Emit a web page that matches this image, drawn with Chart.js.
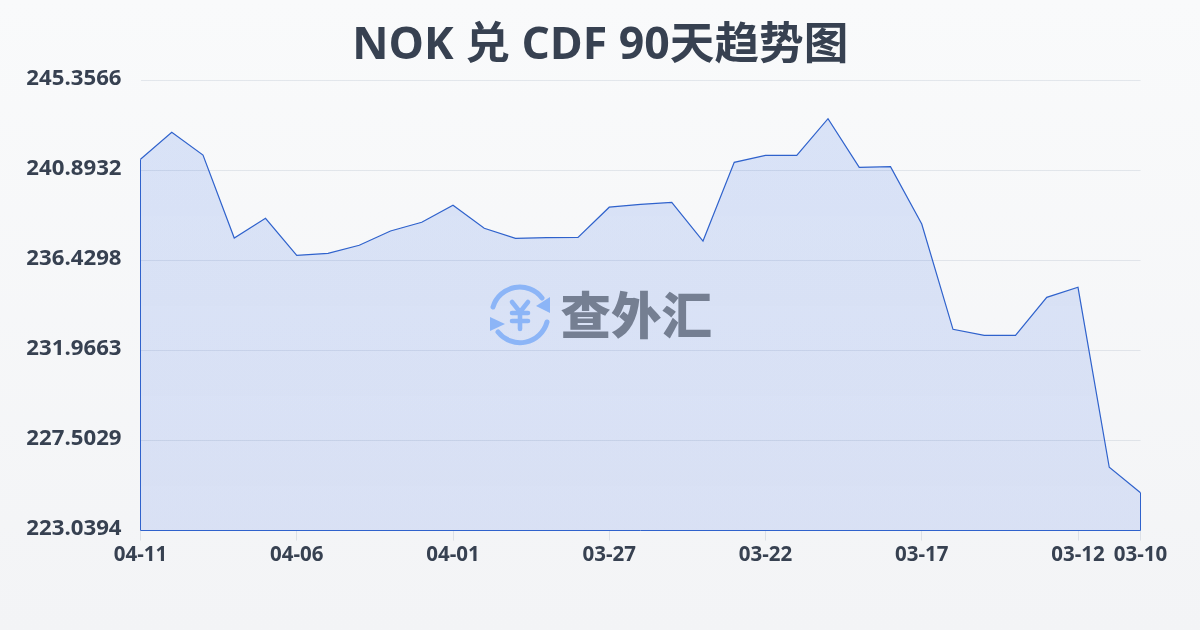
<!DOCTYPE html>
<html lang="zh">
<head>
<meta charset="utf-8">
<title>NOK 兑 CDF 90天趋势图</title>
<script src="https://cdn.jsdelivr.net/npm/chart.js@4/dist/chart.umd.min.js"></script>
<style>
html,body{margin:0;padding:0;width:1200px;height:630px;overflow:hidden}
body{background:linear-gradient(180deg,#f9fafb 0%,#f3f4f6 100%);position:relative}
canvas{position:absolute;left:0;top:0}
#wm{position:absolute;left:0;top:0;width:1200px;height:630px;pointer-events:none}
#wmt{position:absolute;left:560.5px;top:277px;font:900 50.5px/70px "Noto Sans CJK SC";color:#757f92;white-space:nowrap}
</style>
</head>
<body>
<canvas id="c" width="1200" height="630"></canvas>
<svg id="wm" viewBox="0 0 1200 630" xmlns="http://www.w3.org/2000/svg">
  <g fill="none" stroke="#8cb5f7" stroke-width="5" stroke-linecap="round" stroke-linejoin="round">
    <path d="M493 307A28 28 0 0 1 542 298"/>
    <path d="M547 322A28 28 0 0 1 498 332"/>
    <path stroke-width="4.6" d="M512 302L520 312L528 302M512 313H528M512 321H528M520 312V329"/>
  </g>
  <g fill="#8cb5f7">
    <path d="M550 297V313L536 306Z"/>
    <path d="M490 317V331L505 324Z"/>
  </g>
</svg>
<div id="wmt">查外汇</div>
<script>
const titleText = 'NOK 兑 CDF 90天趋势图';
const categories = ['04-11','04-10','04-09','04-08','04-07','04-06','04-05','04-04','04-03','04-02','04-01',
  '03-31','03-30','03-29','03-28','03-27','03-26','03-25','03-24','03-23','03-22',
  '03-21','03-20','03-19','03-18','03-17','03-16','03-15','03-14','03-13','03-12','03-11','03-10'];
const rates = [241.449,242.788,241.662,237.546,238.523,236.688,236.787,237.184,237.893,238.325,239.168,
  238.027,237.531,237.561,237.576,239.074,239.217,239.317,237.397,241.300,241.647,
  241.647,243.462,241.052,241.082,238.240,233.018,232.720,232.720,234.605,235.101,226.174,224.909];
const xTickLabels = ['04-11','04-06','04-01','03-27','03-22','03-17','03-12','03-10'];
const yTickValues = [245.3566,240.8932,236.4298,231.9663,227.5029,223.0394];

const textColor = '#374151';
const lineColor = '#2f62cc';
const labelFont = '"Open Sans","Noto Sans CJK SC",sans-serif';

const outline = {
  id: 'outline',
  afterDatasetsDraw(chart) {
    const {ctx, scales: {x, y}} = chart;
    const last = rates.length - 1;
    ctx.save();
    ctx.strokeStyle = lineColor;
    ctx.lineWidth = 1;
    ctx.beginPath();
    ctx.moveTo(x.getPixelForValue(0), y.getPixelForValue(rates[0]));
    ctx.lineTo(x.getPixelForValue(0), y.bottom);
    ctx.lineTo(x.getPixelForValue(last), y.bottom);
    ctx.lineTo(x.getPixelForValue(last), y.getPixelForValue(rates[last]));
    ctx.stroke();
    ctx.restore();
  }
};

new Chart(document.getElementById('c'), {
  type: 'line',
  plugins: [outline],
  data: {
    labels: categories,
    datasets: [{
      data: rates,
      borderColor: lineColor,
      borderWidth: 1.2,
      pointRadius: 0,
      tension: 0,
      clip: false,
      fill: 'origin',
      backgroundColor(ctx) {
        const a = ctx.chart.chartArea;
        if (!a) return 'rgba(37,99,235,0.14)';
        const g = ctx.chart.ctx.createLinearGradient(0, a.top, 0, a.bottom);
        g.addColorStop(0, 'rgba(37,96,232,0.15)');
        g.addColorStop(1, 'rgba(38,90,226,0.13)');
        return g;
      }
    }]
  },
  options: {
    responsive: false,
    animation: false,
    layout: {padding: {left: 0.5, right: 0, top: 0, bottom: 0}},
    plugins: {
      legend: {display: false},
      tooltip: {enabled: false},
      title: {
        display: true,
        text: titleText,
        color: textColor,
        font: {family: labelFont, size: 44.6, weight: 'bold', lineHeight: 1.2},
        padding: {top: 19.2, bottom: 7.8}
      }
    },
    scales: {
      x: {
        type: 'category',
        offset: false,
        afterFit(s) { s.height = 99.5; },
        afterBuildTicks(s) { s.ticks = s.ticks.filter(t => xTickLabels.includes(categories[t.value])); },
        border: {display: false},
        grid: {drawOnChartArea: false, drawTicks: true, tickLength: 10, color: 'rgba(148,163,184,0.25)'},
        ticks: {
          autoSkip: false, maxRotation: 0, minRotation: 0, padding: 2,
          color: textColor,
          font: {family: labelFont, size: 20.5, weight: 'bold'},
          callback(v) { return categories[v]; }
        }
      },
      y: {
        min: yTickValues[yTickValues.length - 1],
        max: yTickValues[0],
        afterFit(s) { s.width = 140; },
        afterBuildTicks(s) { s.ticks = yTickValues.map(v => ({value: v})); },
        border: {display: false},
        grid: {drawTicks: false, color: 'rgba(148,163,184,0.22)', lineWidth: 1},
        ticks: {
          padding: 19,
          labelOffset: -2,
          color: textColor,
          font: {family: labelFont, size: 22.2, weight: 'bold'},
          callback(v) { return v.toFixed(4); }
        }
      },
      rightGutter: {
        type: 'linear',
        position: 'right',
        afterFit(s) { s.width = 59.5; },
        border: {display: false},
        grid: {display: false, drawTicks: false},
        ticks: {display: false}
      }
    }
  }
});
</script>
</body>
</html>
